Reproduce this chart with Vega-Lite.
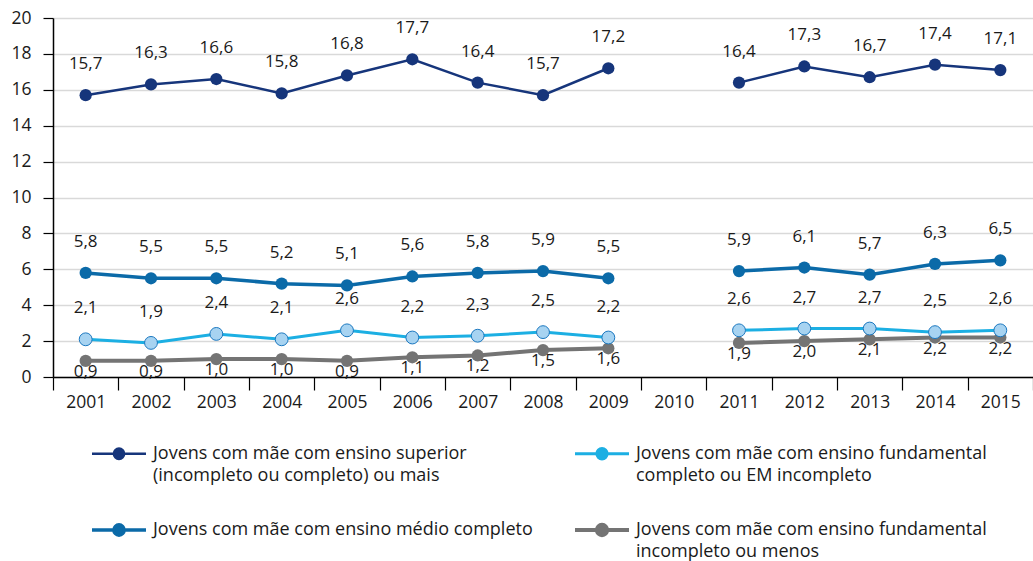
{
  "$schema": "https://vega.github.io/schema/vega-lite/v6.json",
  "width": 980,
  "height": 359,
  "autosize": {"type": "none"},
  "padding": {"left": 53, "top": 18, "right": 0, "bottom": 184},
  "background": "white",
  "config": {
    "locale": {"number": {"decimal": ",", "thousands": ".", "grouping": [3], "currency": ["R$", ""]}},
    "font": "Open Sans",
    "view": {"stroke": null},
    "axis": {"labelFont": "Open Sans", "labelFontSize": 17.5, "labelColor": "#1a1a1a", "domainColor": "#000000", "domainWidth": 1.5, "tickColor": "#000000", "tickWidth": 1.2, "title": null}
  },
  "data": {
    "values": [
      {"ano": "2001", "trecho": "a", "serie": "Jovens com mãe com ensino superior (incompleto ou completo) ou mais", "valor": 15.7},
      {"ano": "2002", "trecho": "a", "serie": "Jovens com mãe com ensino superior (incompleto ou completo) ou mais", "valor": 16.3},
      {"ano": "2003", "trecho": "a", "serie": "Jovens com mãe com ensino superior (incompleto ou completo) ou mais", "valor": 16.6},
      {"ano": "2004", "trecho": "a", "serie": "Jovens com mãe com ensino superior (incompleto ou completo) ou mais", "valor": 15.8},
      {"ano": "2005", "trecho": "a", "serie": "Jovens com mãe com ensino superior (incompleto ou completo) ou mais", "valor": 16.8},
      {"ano": "2006", "trecho": "a", "serie": "Jovens com mãe com ensino superior (incompleto ou completo) ou mais", "valor": 17.7},
      {"ano": "2007", "trecho": "a", "serie": "Jovens com mãe com ensino superior (incompleto ou completo) ou mais", "valor": 16.4},
      {"ano": "2008", "trecho": "a", "serie": "Jovens com mãe com ensino superior (incompleto ou completo) ou mais", "valor": 15.7},
      {"ano": "2009", "trecho": "a", "serie": "Jovens com mãe com ensino superior (incompleto ou completo) ou mais", "valor": 17.2},
      {"ano": "2011", "trecho": "b", "serie": "Jovens com mãe com ensino superior (incompleto ou completo) ou mais", "valor": 16.4},
      {"ano": "2012", "trecho": "b", "serie": "Jovens com mãe com ensino superior (incompleto ou completo) ou mais", "valor": 17.3},
      {"ano": "2013", "trecho": "b", "serie": "Jovens com mãe com ensino superior (incompleto ou completo) ou mais", "valor": 16.7},
      {"ano": "2014", "trecho": "b", "serie": "Jovens com mãe com ensino superior (incompleto ou completo) ou mais", "valor": 17.4},
      {"ano": "2015", "trecho": "b", "serie": "Jovens com mãe com ensino superior (incompleto ou completo) ou mais", "valor": 17.1},
      {"ano": "2001", "trecho": "a", "serie": "Jovens com mãe com ensino médio completo", "valor": 5.8},
      {"ano": "2002", "trecho": "a", "serie": "Jovens com mãe com ensino médio completo", "valor": 5.5},
      {"ano": "2003", "trecho": "a", "serie": "Jovens com mãe com ensino médio completo", "valor": 5.5},
      {"ano": "2004", "trecho": "a", "serie": "Jovens com mãe com ensino médio completo", "valor": 5.2},
      {"ano": "2005", "trecho": "a", "serie": "Jovens com mãe com ensino médio completo", "valor": 5.1},
      {"ano": "2006", "trecho": "a", "serie": "Jovens com mãe com ensino médio completo", "valor": 5.6},
      {"ano": "2007", "trecho": "a", "serie": "Jovens com mãe com ensino médio completo", "valor": 5.8},
      {"ano": "2008", "trecho": "a", "serie": "Jovens com mãe com ensino médio completo", "valor": 5.9},
      {"ano": "2009", "trecho": "a", "serie": "Jovens com mãe com ensino médio completo", "valor": 5.5},
      {"ano": "2011", "trecho": "b", "serie": "Jovens com mãe com ensino médio completo", "valor": 5.9},
      {"ano": "2012", "trecho": "b", "serie": "Jovens com mãe com ensino médio completo", "valor": 6.1},
      {"ano": "2013", "trecho": "b", "serie": "Jovens com mãe com ensino médio completo", "valor": 5.7},
      {"ano": "2014", "trecho": "b", "serie": "Jovens com mãe com ensino médio completo", "valor": 6.3},
      {"ano": "2015", "trecho": "b", "serie": "Jovens com mãe com ensino médio completo", "valor": 6.5},
      {"ano": "2001", "trecho": "a", "serie": "Jovens com mãe com ensino fundamental completo ou EM incompleto", "valor": 2.1},
      {"ano": "2002", "trecho": "a", "serie": "Jovens com mãe com ensino fundamental completo ou EM incompleto", "valor": 1.9},
      {"ano": "2003", "trecho": "a", "serie": "Jovens com mãe com ensino fundamental completo ou EM incompleto", "valor": 2.4},
      {"ano": "2004", "trecho": "a", "serie": "Jovens com mãe com ensino fundamental completo ou EM incompleto", "valor": 2.1},
      {"ano": "2005", "trecho": "a", "serie": "Jovens com mãe com ensino fundamental completo ou EM incompleto", "valor": 2.6},
      {"ano": "2006", "trecho": "a", "serie": "Jovens com mãe com ensino fundamental completo ou EM incompleto", "valor": 2.2},
      {"ano": "2007", "trecho": "a", "serie": "Jovens com mãe com ensino fundamental completo ou EM incompleto", "valor": 2.3},
      {"ano": "2008", "trecho": "a", "serie": "Jovens com mãe com ensino fundamental completo ou EM incompleto", "valor": 2.5},
      {"ano": "2009", "trecho": "a", "serie": "Jovens com mãe com ensino fundamental completo ou EM incompleto", "valor": 2.2},
      {"ano": "2011", "trecho": "b", "serie": "Jovens com mãe com ensino fundamental completo ou EM incompleto", "valor": 2.6},
      {"ano": "2012", "trecho": "b", "serie": "Jovens com mãe com ensino fundamental completo ou EM incompleto", "valor": 2.7},
      {"ano": "2013", "trecho": "b", "serie": "Jovens com mãe com ensino fundamental completo ou EM incompleto", "valor": 2.7},
      {"ano": "2014", "trecho": "b", "serie": "Jovens com mãe com ensino fundamental completo ou EM incompleto", "valor": 2.5},
      {"ano": "2015", "trecho": "b", "serie": "Jovens com mãe com ensino fundamental completo ou EM incompleto", "valor": 2.6},
      {"ano": "2001", "trecho": "a", "serie": "Jovens com mãe com ensino fundamental incompleto ou menos", "valor": 0.9},
      {"ano": "2002", "trecho": "a", "serie": "Jovens com mãe com ensino fundamental incompleto ou menos", "valor": 0.9},
      {"ano": "2003", "trecho": "a", "serie": "Jovens com mãe com ensino fundamental incompleto ou menos", "valor": 1.0},
      {"ano": "2004", "trecho": "a", "serie": "Jovens com mãe com ensino fundamental incompleto ou menos", "valor": 1.0},
      {"ano": "2005", "trecho": "a", "serie": "Jovens com mãe com ensino fundamental incompleto ou menos", "valor": 0.9},
      {"ano": "2006", "trecho": "a", "serie": "Jovens com mãe com ensino fundamental incompleto ou menos", "valor": 1.1},
      {"ano": "2007", "trecho": "a", "serie": "Jovens com mãe com ensino fundamental incompleto ou menos", "valor": 1.2},
      {"ano": "2008", "trecho": "a", "serie": "Jovens com mãe com ensino fundamental incompleto ou menos", "valor": 1.5},
      {"ano": "2009", "trecho": "a", "serie": "Jovens com mãe com ensino fundamental incompleto ou menos", "valor": 1.6},
      {"ano": "2011", "trecho": "b", "serie": "Jovens com mãe com ensino fundamental incompleto ou menos", "valor": 1.9},
      {"ano": "2012", "trecho": "b", "serie": "Jovens com mãe com ensino fundamental incompleto ou menos", "valor": 2.0},
      {"ano": "2013", "trecho": "b", "serie": "Jovens com mãe com ensino fundamental incompleto ou menos", "valor": 2.1},
      {"ano": "2014", "trecho": "b", "serie": "Jovens com mãe com ensino fundamental incompleto ou menos", "valor": 2.2},
      {"ano": "2015", "trecho": "b", "serie": "Jovens com mãe com ensino fundamental incompleto ou menos", "valor": 2.2}
    ]
  },
  "encoding": {
    "x": {
      "field": "ano", "type": "ordinal", "bandPosition": 0.5,
      "scale": {"type": "band", "domain": ["2001","2002","2003","2004","2005","2006","2007","2008","2009","2010","2011","2012","2013","2014","2015"], "paddingInner": 0, "paddingOuter": 0},
      "axis": {"tickBand": "extent", "tickSize": 13, "labelPadding": 3, "labelAngle": 0, "grid": false}
    },
    "y": {
      "field": "valor", "type": "quantitative",
      "scale": {"domain": [0, 20], "nice": false},
      "axis": {"values": [0,2,4,6,8,10,12,14,16,18,20], "tickSize": 10, "labelPadding": 12, "grid": true, "gridColor": "#d9d9d9", "gridWidth": 1.5}
    }
  },
  "layer": [
    {
      "mark": {"type": "line"},
      "encoding": {
        "color": {
          "field": "serie", "type": "nominal",
          "scale": {
            "domain": ["Jovens com mãe com ensino superior (incompleto ou completo) ou mais", "Jovens com mãe com ensino fundamental completo ou EM incompleto", "Jovens com mãe com ensino médio completo", "Jovens com mãe com ensino fundamental incompleto ou menos"],
            "range": ["#16357b", "#1cafe3", "#0b6aa8", "#747474"]
          },
          "legend": {
            "title": null,
            "orient": "none",
            "legendX": 37,
            "legendY": 407,
            "columns": 2,
            "direction": "horizontal",
            "columnPadding": 34,
            "rowPadding": 16,
            "padding": 0,
            "symbolType": "M-1,0H-0.19M0.19,0H1M0.19,0A0.19,0.19,0,1,1,-0.19,0A0.19,0.19,0,1,1,0.19,0Z",
            "symbolSize": 2916,
            "symbolStrokeWidth": 3,
            "labelFont": "Open Sans",
            "labelFontSize": 18,
            "labelColor": "#1a1a1a",
            "labelOffset": 5,
            "labelLimit": 0,
            "labelExpr": "length(datum.label) > 45 ? [join(slice(split(datum.label, ' '), 0, 6), ' '), join(slice(split(datum.label, ' '), 6), ' ')] : datum.label",
            "encode": {
              "symbols": {"update": {
                "fill": {"signal": "indexof(datum.value, 'completo ou EM') >= 0 ? '#a7d3f1' : scale('color', datum.value)"},
                "stroke": {"signal": "scale('color', datum.value)"},
                "strokeWidth": {"value": 3},
                "opacity": {"value": 1}
              }},
              "labels": {"update": {"lineHeight": {"value": 22}}}
            }
          }
        },
        "detail": {"field": "trecho"},
        "strokeWidth": {
          "field": "serie", "type": "nominal", "legend": null,
          "scale": {
            "domain": ["Jovens com mãe com ensino superior (incompleto ou completo) ou mais", "Jovens com mãe com ensino fundamental completo ou EM incompleto", "Jovens com mãe com ensino médio completo", "Jovens com mãe com ensino fundamental incompleto ou menos"],
            "range": [2.5, 4, 4, 4]
          }
        }
      }
    },
    {
      "transform": [{"filter": "indexof(datum.serie, 'completo ou EM') < 0"}],
      "mark": {"type": "point", "filled": true, "size": 150, "opacity": 1},
      "encoding": {"color": {"field": "serie", "type": "nominal", "legend": null}}
    },
    {
      "transform": [{"filter": "indexof(datum.serie, 'completo ou EM') >= 0"}],
      "mark": {"type": "point", "filled": true, "size": 165, "opacity": 1, "fill": "#a7d3f1", "stroke": "#1b78c0", "strokeWidth": 1}
    },
    {
      "transform": [{"filter": "indexof(datum.serie, 'incompleto ou menos') < 0"}],
      "mark": {"type": "text", "dy": -31, "fontSize": 17, "font": "Open Sans", "color": "#1a1a1a"},
      "encoding": {"text": {"field": "valor", "type": "quantitative", "format": ".1f"}}
    },
    {
      "transform": [{"filter": "indexof(datum.serie, 'incompleto ou menos') >= 0"}],
      "mark": {"type": "text", "dy": 11, "fontSize": 17, "font": "Open Sans", "color": "#1a1a1a"},
      "encoding": {"text": {"field": "valor", "type": "quantitative", "format": ".1f"}}
    }
  ]
}
